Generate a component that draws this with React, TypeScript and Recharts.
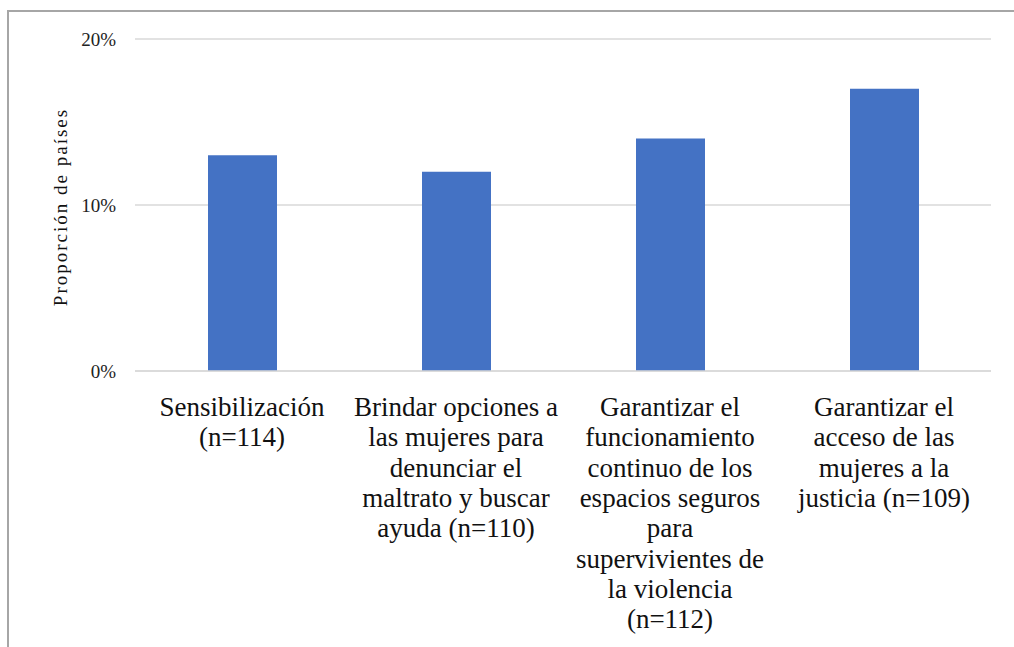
import { Bar, BarChart, CartesianGrid, Label, XAxis, YAxis } from "recharts";

const categoryLines: string[][] = [
  ["Sensibilización", "(n=114)"],
  ["Brindar opciones a", "las mujeres para", "denunciar el", "maltrato y buscar", "ayuda (n=110)"],
  [
    "Garantizar el",
    "funcionamiento",
    "continuo de los",
    "espacios seguros",
    "para",
    "supervivientes de",
    "la violencia",
    "(n=112)",
  ],
  ["Garantizar el", "acceso de las", "mujeres a la", "justicia (n=109)"],
];
const categories = categoryLines.map((lines) => lines.join(" "));
const shares = [13, 12, 14, 17];
const yTicks = [0, 10, 20];
const yTitle = "Proporción de países";

const data = categories.map((name, i) => ({ name, share: shares[i] }));

const SERIF = '"Liberation Serif", "Times New Roman", serif';

function CategoryTick({ x, y, payload }: { x?: number; y?: number; payload?: { value: string } }) {
  const idx = categories.indexOf(payload?.value ?? "");
  const lines = idx >= 0 ? categoryLines[idx] : [payload?.value ?? ""];
  return (
    <g>
      {lines.map((line, i) => (
        <text
          key={i}
          x={x}
          y={(y ?? 0) + 45 + i * 30.3}
          textAnchor="middle"
          fontFamily={SERIF}
          fontSize={27}
          fill="#111"
        >
          {line}
        </text>
      ))}
    </g>
  );
}

export default function App() {
  return (
    <div
      style={{
        position: "fixed",
        top: 10,
        left: 7,
        width: 1007,
        height: 637,
        borderTop: "2px solid #a6a6a6",
        borderLeft: "2px solid #a6a6a6",
        background: "#fff",
      }}
    >
      <BarChart
        width={1005}
        height={635}
        data={data}
        margin={{ top: 27, right: 23, left: 0, bottom: 0 }}
      >
        <CartesianGrid vertical={false} stroke="#d9d9d9" strokeWidth={1.5} />
        <XAxis
          dataKey="name"
          height={276}
          axisLine={{ stroke: "#d9d9d9", strokeWidth: 1.5 }}
          tickLine={false}
          tickSize={0}
          tickMargin={0}
          interval={0}
          tick={<CategoryTick />}
        />
        <YAxis
          width={126}
          domain={[0, 20]}
          ticks={yTicks}
          axisLine={false}
          tickLine={false}
          tickSize={6}
          tickMargin={13}
          tickFormatter={(v: number) => `${v}%`}
          tick={{ fontFamily: SERIF, fontSize: 19, fill: "#222" }}
        >
          <Label
            content={({ viewBox }: any) => {
              const cx = 51;
              const cy = viewBox.y + viewBox.height / 2 + 2;
              return (
                <text
                  x={cx}
                  y={cy}
                  transform={`rotate(-90 ${cx} ${cy})`}
                  textAnchor="middle"
                  dominantBaseline="central"
                  fontFamily={SERIF}
                  fontSize={19}
                  letterSpacing={2}
                  fill="#111"
                >
                  {yTitle}
                </text>
              );
            }}
          />
        </YAxis>
        <Bar dataKey="share" fill="#4472c4" barSize={69} isAnimationActive={false} />
      </BarChart>
    </div>
  );
}
